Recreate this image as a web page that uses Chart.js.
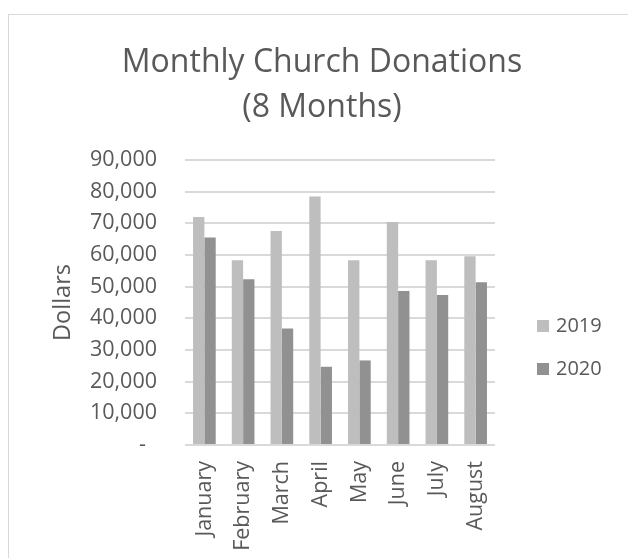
<!DOCTYPE html>
<html><head><meta charset="utf-8">
<script src="https://cdn.jsdelivr.net/npm/chart.js@4"></script>
<style>
html,body{margin:0;padding:0;background:#fff;}
#wrap{position:relative;width:628px;height:558px;overflow:hidden;background:#fff;}
#frame{position:absolute;left:8px;top:14px;width:700px;height:700px;border:1px solid #d9d9d9;box-sizing:border-box;}
#c{position:absolute;left:0;top:0;}
</style></head>
<body>
<div id="wrap"><div id="frame"></div><canvas id="c" width="628" height="558"></canvas></div>
<script>
const months = ['January','February','March','April','May','June','July','August'];
const seriesNames = ['2019','2020'];
const donations2019 = [72000, 58300, 67600, 78500, 58300, 70400, 58300, 59600];
const donations2020 = [65500, 52300, 36800, 24700, 26700, 48600, 47400, 51400];
const chartTitle = ['Monthly Church Donations','(8 Months)'];
const yAxisTitle = 'Dollars';
const yMax = 90000, yStep = 10000;

const textColor = '#595959';
const seriesColors = ['#bebebe','#919191'];
Chart.defaults.font.family = "'Open Sans', sans-serif";

const sideLegend = {
  id: 'sideLegend',
  afterDraw(chart) {
    const {ctx, chartArea} = chart;
    const midY = (chartArea.top + chartArea.bottom) / 2;
    ctx.save();
    ctx.font = "20px 'Open Sans', sans-serif";
    ctx.textBaseline = 'middle';
    ctx.textAlign = 'left';
    chart.data.datasets.forEach((ds, i) => {
      const y = midY + 23.5 + i * 43;
      ctx.fillStyle = ds.backgroundColor;
      ctx.fillRect(chartArea.right + 42, y - 6, 12, 12);
      ctx.fillStyle = textColor;
      ctx.fillText(ds.label, chartArea.right + 61, y);
    });
    ctx.restore();
  }
};

new Chart(document.getElementById('c'), {
  type: 'bar',
  data: {
    labels: months,
    datasets: [
      {label: seriesNames[0], data: donations2019, backgroundColor: seriesColors[0]},
      {label: seriesNames[1], data: donations2020, backgroundColor: seriesColors[1]}
    ]
  },
  options: {
    responsive: false,
    animation: false,
    layout: {padding: {left: 16, right: 0, top: 0, bottom: 0}},
    datasets: {bar: {categoryPercentage: 0.585, barPercentage: 1}},
    plugins: {
      legend: {display: false},
      tooltip: {enabled: false},
      title: {
        display: true, text: chartTitle, color: textColor,
        font: {size: 32, weight: 'normal', lineHeight: 1.406},
        padding: {top: 40.5, bottom: 29.5}
      }
    },
    scales: {
      x: {
        grid: {display: false, drawTicks: false},
        border: {display: false},
        ticks: {color: textColor, font: {size: 21.5}, minRotation: 90, maxRotation: 90, padding: 16, autoSkip: false},
        afterFit(s) { s.height = 113; }
      },
      y: {
        min: 0, max: yMax,
        grid: {color: '#d9d9d9', lineWidth: 2, drawTicks: false},
        border: {display: false},
        ticks: {
          stepSize: yStep, padding: 28, color: textColor, font: {size: 21.5},
          callback: v => v === 0 ? '-  ' : v.toLocaleString('en-US')
        },
        title: {display: true, text: yAxisTitle, color: textColor, font: {size: 23.5}, padding: {top: 33, bottom: 0}},
        afterFit(s) { s.width = 169; }
      },
      y2: {
        position: 'right', display: true,
        grid: {display: false, drawTicks: false},
        border: {display: false},
        ticks: {display: false},
        afterFit(s) { s.width = 133; }
      }
    }
  },
  plugins: [sideLegend]
});
</script>
</body></html>
